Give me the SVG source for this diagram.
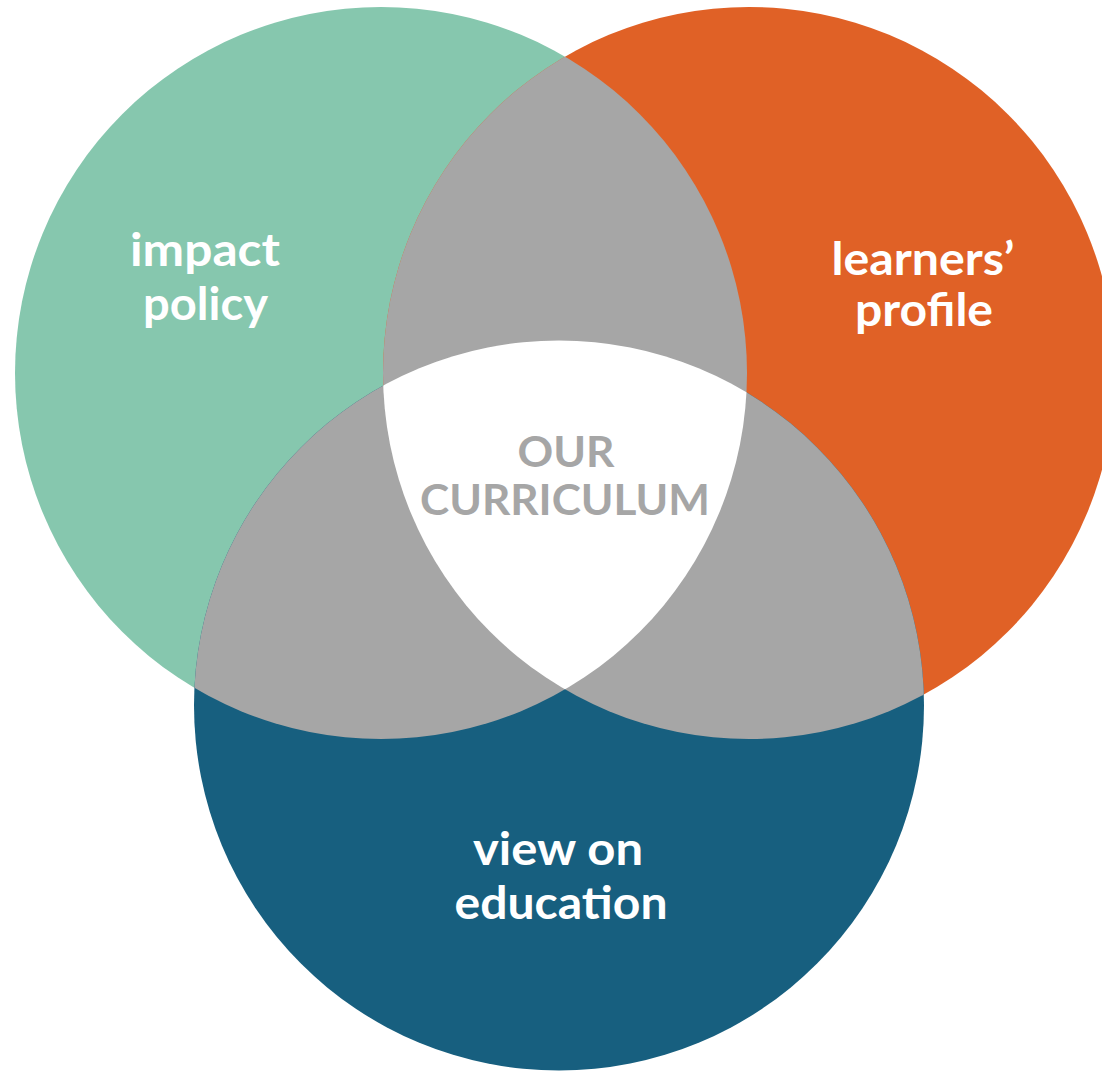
<svg xmlns="http://www.w3.org/2000/svg" width="1102" height="1073" viewBox="0 0 1102 1073">
<style>
.lbl{font-family:Lato,"Open Sans","Noto Sans",sans-serif;font-weight:bold;font-size:46px;fill:#ffffff;text-anchor:middle}
.ctr{font-family:Lato,"Open Sans","Noto Sans",sans-serif;font-weight:bold;font-size:42px;fill:#a6a6a6;text-anchor:middle}
.gray{fill:#a6a6a6}
</style>
<defs>
<circle id="cg" cx="381" cy="373" r="366"/>
<circle id="co" cx="749" cy="373" r="366"/>
<circle id="cb" cx="559" cy="705.5" r="365"/>
<clipPath id="clipO"><use href="#co"/></clipPath>
<clipPath id="clipB"><use href="#cb"/></clipPath>
</defs>
<rect width="1102" height="1073" fill="#ffffff"/>
<g id="impact-policy">
<use href="#cg" fill="#86c7ae"/>
</g>
<g id="learners-profile">
<use href="#co" fill="#e06126"/>
</g>
<g id="view-on-education">
<use href="#cb" fill="#175f7f"/>
</g>
<g id="overlaps">
<use href="#cg" class="gray" clip-path="url(#clipO)"/>
<use href="#cg" class="gray" clip-path="url(#clipB)"/>
<use href="#co" class="gray" clip-path="url(#clipB)"/>
</g>
<g id="our-curriculum">
<g clip-path="url(#clipB)"><use href="#cg" fill="#ffffff" clip-path="url(#clipO)"/></g>
<text class="ctr" x="566" y="467" textLength="97" lengthAdjust="spacingAndGlyphs">OUR</text>
<text class="ctr" x="565" y="515" textLength="290" lengthAdjust="spacingAndGlyphs">CURRICULUM</text>
</g>
<g id="labels">
<text class="lbl" x="205" y="266" textLength="150" lengthAdjust="spacingAndGlyphs">impact</text>
<text class="lbl" x="205.5" y="320" textLength="125" lengthAdjust="spacingAndGlyphs">policy</text>
<text class="lbl" x="923" y="275" textLength="183" lengthAdjust="spacingAndGlyphs">learners’</text>
<text class="lbl" x="924" y="326" textLength="138" lengthAdjust="spacingAndGlyphs">profile</text>
<text class="lbl" x="558" y="865" textLength="170" lengthAdjust="spacingAndGlyphs">view on</text>
<text class="lbl" x="561" y="919" textLength="213" lengthAdjust="spacingAndGlyphs">education</text>
</g>
<g id="connectors"/>
</svg>
